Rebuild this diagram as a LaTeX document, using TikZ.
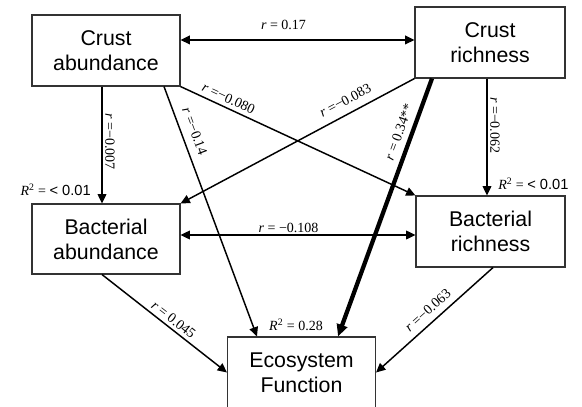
\documentclass[tikz,border=0pt]{standalone}
\usepackage{fontspec}
\setmainfont{Liberation Serif}
\newfontfamily\arialf{Liberation Sans}
\newcommand\sqfont{\arialf\fontsize{11}{12}\selectfont}
\usetikzlibrary{arrows.meta,calc}
\begin{document}
\begin{tikzpicture}[x=0.75pt,y=-0.75pt,
  box/.style={draw=black!80, line width=0.8pt, rectangle, minimum width=111pt,
    minimum height=53.25pt, align=center, inner sep=0pt,
    font=\arialf\fontsize{16}{18.75}\selectfont},
  conn/.style={line width=1.1pt, -{Triangle[length=7pt,width=6.5pt]}},
  dbl/.style={line width=1.1pt, {Triangle[length=7pt,width=6.5pt]}-{Triangle[length=7pt,width=6.5pt]}},
  thickconn/.style={line width=3.2pt, -{Triangle[length=9pt,width=8pt]}},
  lbl/.style={font=\fontsize{10.5}{12}\selectfont, inner sep=0pt}]
\useasboundingbox (0,0) rectangle (582,407);
\clip (0,0) rectangle (582,407);

\node[box] (CA) at (106,50.5) {Crust\\abundance};
\node[box, minimum width=112.5pt] (CR) at (490,42.5) {Crust\\richness};
\node[box, minimum height=52.5pt] (BA) at (106,239) {Bacterial\\abundance};
\node[box, minimum width=111.75pt] (BR) at (490.5,231.5) {Bacterial\\richness};
\node[box] (EF) at (301.5,372.5) {Ecosystem\\Function};

% top double arrow
\coordinate (a1) at ([yshift=7.9pt]CA.east);
\draw[dbl] (a1) -- (a1 -| CR.west)
  node[lbl, pos=0.44, above=7pt] {\textit{r} = 0.17};

% crust abundance -> bacterial abundance
\coordinate (ca1) at ([xshift=-3pt]CA.south);
\draw[conn] (ca1) -- (ca1 |- BA.north)
  node[lbl, pos=0.47, rotate=-90, anchor=south, inner sep=1.8pt] {\textit{r} =−0.007};

% crust abundance -> ecosystem function
\draw[conn] ([xshift=43.5pt]CA.south) -- ([xshift=-33.4pt]EF.north)
  node[lbl, pos=0.198, sloped, above=5.8pt] {\textit{r} =−0.14};

% crust abundance -> bacterial richness
\draw[conn] (CA.south east) -- (BR.north west)
  node[lbl, pos=0.188, sloped, above=3pt] {\textit{r} =−0.080};

% crust richness -> bacterial abundance
\draw[conn] (CR.south west) -- (BA.north east)
  node[lbl, pos=0.269, sloped, above=5.8pt] {\textit{r} =−0.083};

% crust richness -> bacterial richness
\coordinate (cr1) at ([xshift=-2.25pt]CR.south);
\draw[conn] (cr1) -- (cr1 |- BR.north)
  node[lbl, pos=0.4, rotate=-90, anchor=south, inner sep=1.8pt] {\textit{r} =−0.062};

% bacterial abundance <-> bacterial richness
\coordinate (ba1) at ([yshift=3pt]BA.east);
\draw[dbl] (ba1) -- (ba1 -| BR.west)
  node[lbl, pos=0.46, above=1.5pt] {\textit{r} = −0.108};

% bacterial abundance -> ecosystem function
\coordinate (ba2) at ([xshift=-3pt]BA.south);
\draw[conn] (ba2) -- (EF.west)
  node[lbl, pos=0.53, sloped, above=2.4pt] {\textit{r} = 0.045};

% bacterial richness -> ecosystem function
\draw[conn] ([xshift=1.9pt]BR.south) -- (EF.east)
  node[lbl, pos=0.49, sloped, above=4.7pt] {\textit{r} =−0.063};

% crust richness -> ecosystem function (thick)
\draw[thickconn] ([xshift=-43.5pt]CR.south) -- ([xshift=27.4pt]EF.north)
  node[lbl, pos=0.224, sloped, above=4.4pt] {\textit{r} = 0.34**};

% R^2 labels
\node[lbl, anchor=east] (r2a) at (91,190) {\textit{R}\textsuperscript{2} = {\sqfont < 0.01}};
\node[lbl, anchor=west] (r2b) at (498,184) {\textit{R}\textsuperscript{2} = {\sqfont < 0.01}};
\node[lbl] (r2c) at (296,325) {\textit{R}\textsuperscript{2} = 0.28};
\end{tikzpicture}
\end{document}
